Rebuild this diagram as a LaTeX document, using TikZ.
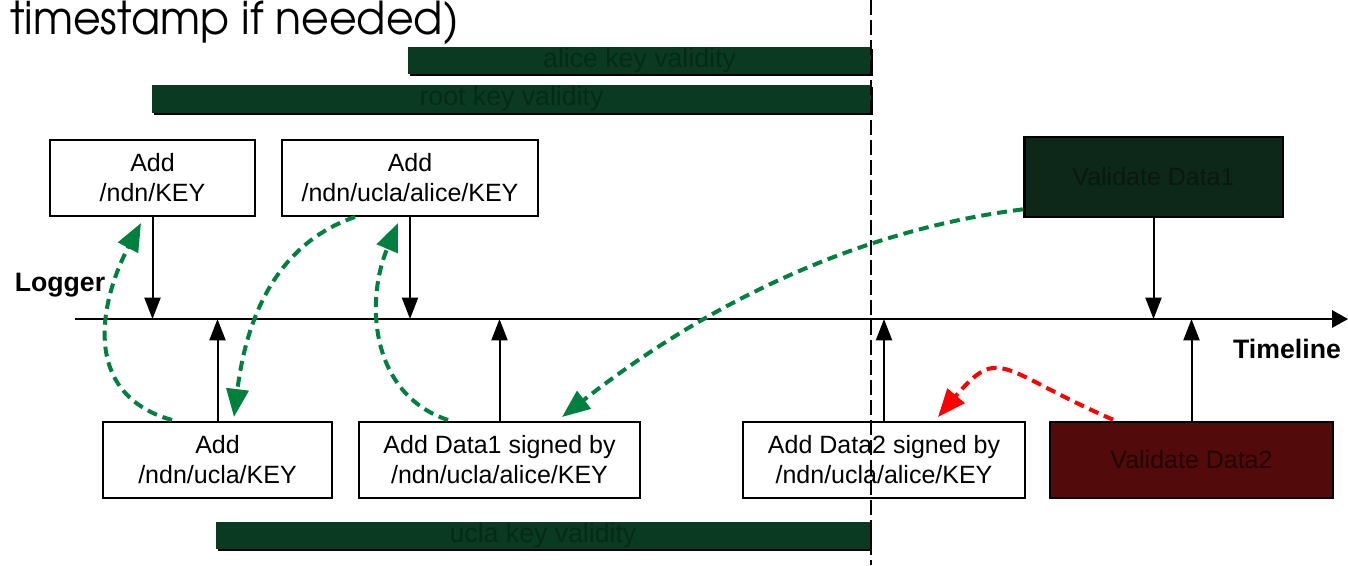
\documentclass[tikz,border=0pt]{standalone}
\usepackage{fontspec}
\setmainfont{Liberation Sans}
\newfontfamily\slidefont{texgyreadventor-regular.otf}
\usepackage{xcolor}
\usetikzlibrary{arrows.meta,calc,shadows}

\definecolor{bargreen}{HTML}{0A3A21}
\definecolor{bartext}{HTML}{052B17}
\definecolor{validfill}{HTML}{0D2818}
\definecolor{validtext}{HTML}{0A190F}
\definecolor{failfill}{HTML}{520A0A}
\definecolor{failtext}{HTML}{220404}
\definecolor{trustgreen}{HTML}{00803F}

\begin{document}
\begin{tikzpicture}[
	x=0.75pt, y=-0.75pt,
	>={Triangle[length=16pt, width=12pt]},
	box/.style={draw, line width=1.5pt, align=center, minimum height=57pt, inner sep=0pt, font=\fontsize{18.75}{22.5}\selectfont},
	check/.style={box, line width=2pt},
	bar/.style={fill=bargreen, text=bartext, minimum height=20.5pt, inner sep=0pt, font=\fontsize{20}{24}\selectfont,
		drop shadow={shadow xshift=1.5pt, shadow yshift=-1.5pt, opacity=1, fill=black}},
	label/.style={font=\bfseries\fontsize{20}{24}\selectfont, inner sep=0pt},
	link/.style={->, line width=1.5pt},
	trust/.style={-{Triangle[length=21pt, width=16.5pt]}, line width=3pt, dash pattern=on 7.5pt off 4.5pt},
	cutline/.style={line width=1.5pt, dash pattern=on 11pt off 4pt}
]
\useasboundingbox (0,0) rectangle (1348,565);
\clip (0,0) rectangle (1348,565);

% slide title, cut at the top
\node[anchor=base west, inner sep=0pt, font=\slidefont\fontsize{34}{38}\selectfont] (slidetitle) at (10,34) {\scalebox{0.94}[1]{timestamp if needed)}};

% key validity periods
\node[bar, minimum width=347.25pt] (alicebar) at (639.5,60.5) {alice key validity};
\node[bar, minimum width=539.25pt] (rootbar) at (511.5,99) {root key validity};
\node[bar, minimum width=490.5pt] (uclabar) at (543,535.5) {ucla key validity};

% timeline
\coordinate (tlstart) at (75,319);
\coordinate (tlend) at (1348,319);
\draw[line width=1.5pt, -{Triangle[length=12pt, width=13pt]}] (tlstart) -- (tlend);
\node[label] (logger) at (60,285) {Logger};
\node[label] (timeline) at (1287,349) {Timeline};

% logger actions
\node[box, minimum width=153.75pt] (addroot) at (152.5,178) {Add\\/ndn/KEY};
\node[box, minimum width=192pt] (addalice) at (410,178) {Add\\/ndn/ucla/alice/KEY};
\node[check, fill=validfill, text=validtext, minimum width=194pt, minimum height=60pt] (valone) at (1153.5,177) {Validate Data1};

\node[box, minimum width=171.75pt] (adducla) at (217.5,460) {Add\\/ndn/ucla/KEY};
\node[box, minimum width=210.75pt] (adddataone) at (499.5,460) {Add Data1 signed by\\/ndn/ucla/alice/KEY};
\node[box, minimum width=211.5pt] (adddatatwo) at (884,460) {Add Data2 signed by\\/ndn/ucla/alice/KEY};
\node[check, fill=failfill, text=failtext, minimum width=212.25pt] (valtwo) at (1191.5,460) {Validate Data2};

\draw[link] (addroot.south) -- (addroot.south |- tlstart);
\draw[link] (addalice.south) -- (addalice.south |- tlstart);
\draw[link] (valone.south) -- (valone.south |- tlstart);

\draw[link] (adducla.north) -- (adducla.north |- tlstart);
\draw[link] (adddataone.north) -- (adddataone.north |- tlstart);
\draw[link] (adddatatwo.north) -- (adddatatwo.north |- tlstart);
\draw[link] (valtwo.north) -- (valtwo.north |- tlstart);

% signing chain
\draw[trust, trustgreen] ($(adducla.north)+(-45.5,-1)$) .. controls +(-92,-26) and +(-41,78) .. ($(addroot.south)+(-11.5,6)$);
\draw[trust, trustgreen] ($(addalice.south)+(-55,0)$) .. controls +(-85,29) and +(11,-88) .. ($(adducla.north)+(16.5,-4)$);
\draw[trust, trustgreen] ($(adddataone.north)+(-51.5,-1)$) .. controls +(-78,-26) and +(-33,78) .. ($(addalice.south)+(-12,6)$);
\draw[trust, trustgreen] ($(valone.south west)+(0,-9)$) .. controls +(-174,22) and +(138,-108) .. ($(adddataone.north)+(62.5,-4)$);
\draw[trust, red] ($(valtwo.north)+(-78.5,-1)$) .. controls +(-113,-49) and +(62,-73) .. ($(adddatatwo.north)+(54,-4)$);

% end of alice key validity
\coordinate (cuttop) at (871,0);
\coordinate (cutbot) at (871,565);
\draw[cutline] (cuttop) -- (cutbot);

\end{tikzpicture}
\end{document}
